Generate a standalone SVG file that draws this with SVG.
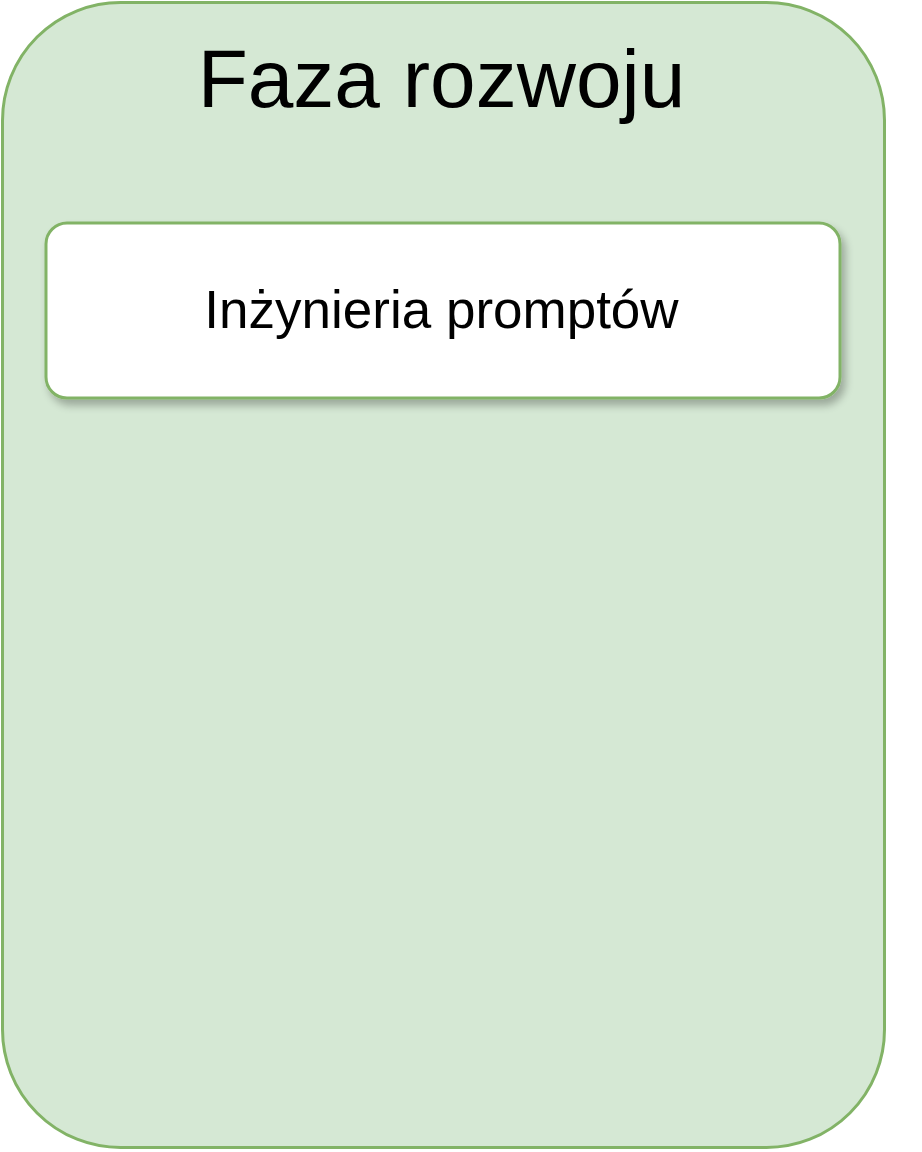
<svg xmlns="http://www.w3.org/2000/svg" width="922" height="1152" viewBox="0 0 922 1152">
  <defs>
    <filter id="shadow" x="-10%" y="-20%" width="120%" height="150%">
      <feGaussianBlur in="SourceAlpha" stdDeviation="4"/>
      <feOffset dx="4" dy="6" result="b"/>
      <feComponentTransfer><feFuncA type="linear" slope="0.28"/></feComponentTransfer>
      <feMerge><feMergeNode/><feMergeNode in="SourceGraphic"/></feMerge>
    </filter>
  </defs>
  <style>
    .container { fill: #d5e8d4; stroke: #82b366; stroke-width: 3; }
    .node { fill: #ffffff; stroke: #82b366; stroke-width: 3; }
    .txt { font-family: "Liberation Sans", Arial, sans-serif; fill: #000000; text-anchor: middle; }
  </style>
  <rect width="922" height="1152" fill="#ffffff"/>
  <g id="faza-rozwoju">
    <rect class="container" x="2.5" y="2.5" width="882" height="1145" rx="118" ry="118"/>
    <text class="txt" x="441.5" y="107" font-size="82">Faza rozwoju</text>
  </g>
  <g id="inzynieria-promptow">
    <rect class="node" x="46" y="223" width="794" height="175" rx="21" ry="21" filter="url(#shadow)"/>
    <text class="txt" x="441.5" y="328" font-size="53">Inżynieria promptów</text>
  </g>
  <g id="connectors"/>
</svg>
